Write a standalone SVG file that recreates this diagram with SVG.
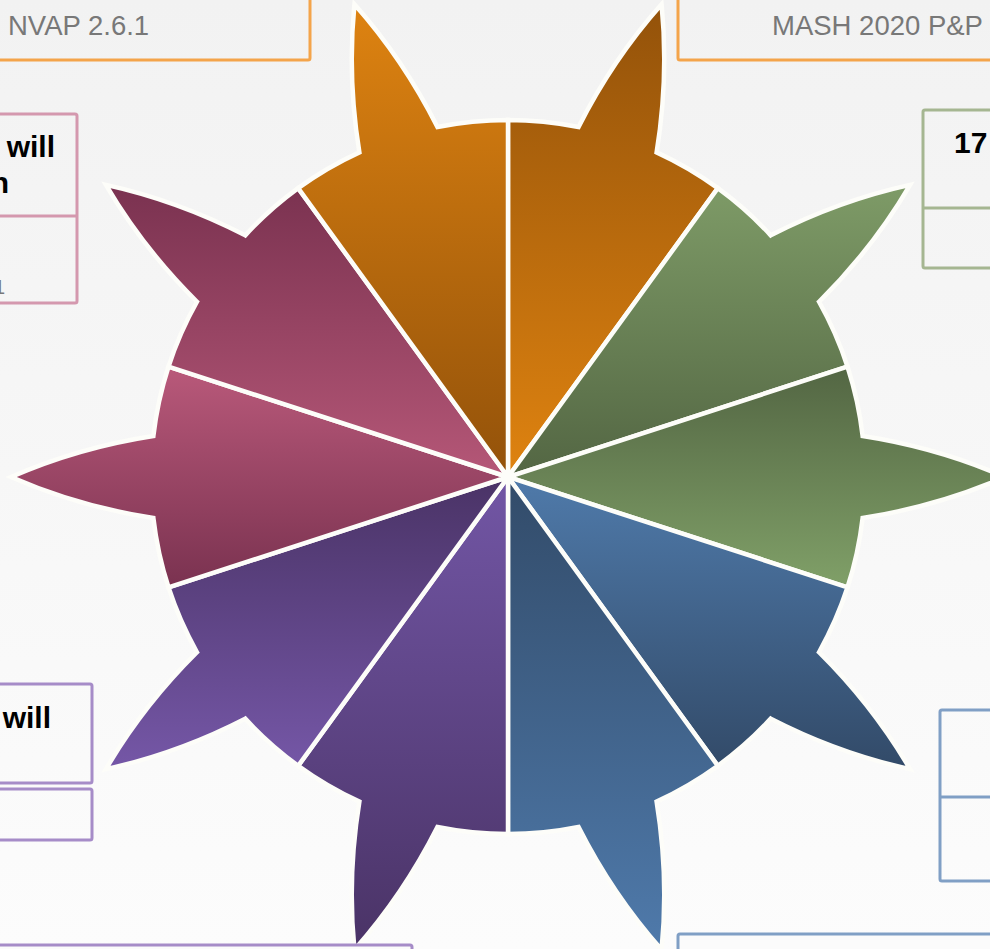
<svg xmlns="http://www.w3.org/2000/svg" xmlns:xlink="http://www.w3.org/1999/xlink" width="990" height="949" viewBox="0 0 990 949">
<style>
.wedge{stroke:#FDFDF9;stroke-width:4.5;stroke-linejoin:miter;stroke-miterlimit:10}
.box{fill:none;stroke-width:3}
.or{stroke:#F4A44A}.pk{stroke:#D498AE}.gr{stroke:#A5B691}.pu{stroke:#A68CC8}.bl{stroke:#809FC5}
.grey{font-family:"Liberation Sans",Arial,sans-serif;font-size:27.5px;fill:#787878}
.bold{font-family:"Liberation Sans",Arial,sans-serif;font-size:30px;font-weight:bold;fill:#000}
</style>
<defs>
<linearGradient id="bg" x1="0" y1="0" x2="0" y2="1"><stop offset="0" stop-color="#F2F2F2"/><stop offset="1" stop-color="#FCFCFC"/></linearGradient>
<path id="w" d="M0,0 L-110.32,-339.53 A357,357 0 0 1 -41.03,-354.63 Q-29.5,-429.5 0,-497 Q29.5,-429.5 41.03,-354.63 A357,357 0 0 1 110.32,-339.53 Z"/>
<linearGradient id="g0" gradientUnits="userSpaceOnUse" x1="0" y1="4" x2="0" y2="477" gradientTransform="rotate(-18) translate(-508 -477)"><stop offset="0" stop-color="#93520A"/><stop offset="1" stop-color="#DF8310"/></linearGradient>
<linearGradient id="g1" gradientUnits="userSpaceOnUse" x1="0" y1="185" x2="0" y2="477" gradientTransform="rotate(-54) translate(-508 -477)"><stop offset="0" stop-color="#7E9B67"/><stop offset="1" stop-color="#536643"/></linearGradient>
<linearGradient id="g2" gradientUnits="userSpaceOnUse" x1="0" y1="367" x2="0" y2="587" gradientTransform="rotate(-90) translate(-508 -477)"><stop offset="0" stop-color="#536643"/><stop offset="1" stop-color="#80A068"/></linearGradient>
<linearGradient id="g3" gradientUnits="userSpaceOnUse" x1="0" y1="477" x2="0" y2="769" gradientTransform="rotate(-126) translate(-508 -477)"><stop offset="0" stop-color="#4F7AAA"/><stop offset="1" stop-color="#324A68"/></linearGradient>
<linearGradient id="g4" gradientUnits="userSpaceOnUse" x1="0" y1="477" x2="0" y2="950" gradientTransform="rotate(-162) translate(-508 -477)"><stop offset="0" stop-color="#324B69"/><stop offset="1" stop-color="#4F7AAB"/></linearGradient>
<linearGradient id="g5" gradientUnits="userSpaceOnUse" x1="0" y1="477" x2="0" y2="950" gradientTransform="rotate(-198) translate(-508 -477)"><stop offset="0" stop-color="#7256A5"/><stop offset="1" stop-color="#4A3366"/></linearGradient>
<linearGradient id="g6" gradientUnits="userSpaceOnUse" x1="0" y1="477" x2="0" y2="769" gradientTransform="rotate(-234) translate(-508 -477)"><stop offset="0" stop-color="#4A3366"/><stop offset="1" stop-color="#7557A7"/></linearGradient>
<linearGradient id="g7" gradientUnits="userSpaceOnUse" x1="0" y1="367" x2="0" y2="587" gradientTransform="rotate(-270) translate(-508 -477)"><stop offset="0" stop-color="#B9597A"/><stop offset="1" stop-color="#7A3250"/></linearGradient>
<linearGradient id="g8" gradientUnits="userSpaceOnUse" x1="0" y1="185" x2="0" y2="477" gradientTransform="rotate(-306) translate(-508 -477)"><stop offset="0" stop-color="#7A3250"/><stop offset="1" stop-color="#B55777"/></linearGradient>
<linearGradient id="g9" gradientUnits="userSpaceOnUse" x1="0" y1="4" x2="0" y2="477" gradientTransform="rotate(-342) translate(-508 -477)"><stop offset="0" stop-color="#DE8311"/><stop offset="1" stop-color="#93520A"/></linearGradient>
</defs>
<rect x="0" y="0" width="990" height="949" fill="url(#bg)"/>
<g id="star">
<g id="wedge0"><use xlink:href="#w" href="#w" class="wedge" fill="url(#g0)" transform="translate(508 477) rotate(18)"/></g>
<g id="wedge1"><use xlink:href="#w" href="#w" class="wedge" fill="url(#g1)" transform="translate(508 477) rotate(54)"/></g>
<g id="wedge2"><use xlink:href="#w" href="#w" class="wedge" fill="url(#g2)" transform="translate(508 477) rotate(90)"/></g>
<g id="wedge3"><use xlink:href="#w" href="#w" class="wedge" fill="url(#g3)" transform="translate(508 477) rotate(126)"/></g>
<g id="wedge4"><use xlink:href="#w" href="#w" class="wedge" fill="url(#g4)" transform="translate(508 477) rotate(162)"/></g>
<g id="wedge5"><use xlink:href="#w" href="#w" class="wedge" fill="url(#g5)" transform="translate(508 477) rotate(198)"/></g>
<g id="wedge6"><use xlink:href="#w" href="#w" class="wedge" fill="url(#g6)" transform="translate(508 477) rotate(234)"/></g>
<g id="wedge7"><use xlink:href="#w" href="#w" class="wedge" fill="url(#g7)" transform="translate(508 477) rotate(270)"/></g>
<g id="wedge8"><use xlink:href="#w" href="#w" class="wedge" fill="url(#g8)" transform="translate(508 477) rotate(306)"/></g>
<g id="wedge9"><use xlink:href="#w" href="#w" class="wedge" fill="url(#g9)" transform="translate(508 477) rotate(342)"/></g>
</g>
<g id="box-nvap">
<rect class="box or" x="-10" y="-10" width="320" height="70" rx="2"/>
<text class="grey" x="8" y="35">NVAP 2.6.1</text>
</g>
<g id="box-mash">
<rect class="box or" x="678" y="-10" width="330" height="70" rx="2"/>
<text class="grey" x="772" y="35">MASH 2020 P&amp;P</text>
</g>
<g id="box-pink">
<rect class="box pk" x="-10" y="114" width="87" height="189" rx="2"/>
<line class="box pk" x1="-10" y1="216" x2="77" y2="216"/>
<text class="bold" x="55" y="157" text-anchor="end">will</text>
<text class="bold" x="9" y="193" text-anchor="end">n</text>
<text class="grey" style="font-size:20px" x="5" y="294" text-anchor="end">1</text>
</g>
<g id="box-green">
<rect class="box gr" x="923" y="110" width="80" height="158" rx="2"/>
<line class="box gr" x1="923" y1="208" x2="1003" y2="208"/>
<text class="bold" x="954" y="153">17</text>
</g>
<g id="box-purple">
<rect class="box pu" x="-10" y="684" width="102" height="99" rx="2"/>
<text class="bold" x="51" y="728" text-anchor="end">will</text>
</g>
<g id="box-purple2">
<rect class="box pu" x="-10" y="789" width="102" height="51" rx="2"/>
</g>
<g id="box-blue">
<rect class="box bl" x="940" y="710" width="70" height="171" rx="2"/>
<line class="box bl" x1="940" y1="797" x2="1010" y2="797"/>
</g>
<g id="box-bottom-left">
<rect class="box pu" style="fill:#FBFBFB" x="-10" y="945" width="422" height="30" rx="2"/>
</g>
<g id="box-bottom-right">
<rect class="box bl" style="fill:#FBFBFB" x="678" y="934" width="330" height="40" rx="2"/>
</g>
</svg>
